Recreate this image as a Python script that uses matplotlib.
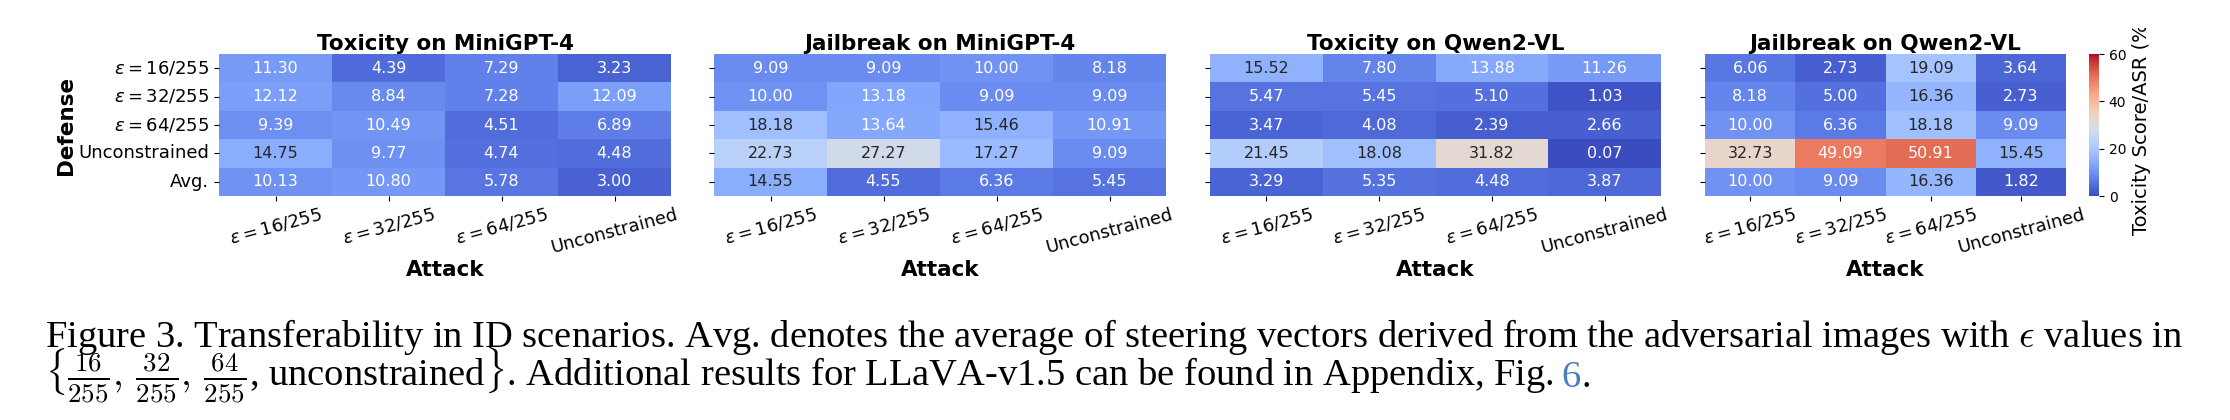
import numpy as np
import matplotlib
matplotlib.use("Agg")
import matplotlib.pyplot as plt
import seaborn as sns
from matplotlib.transforms import Bbox, TransformedBbox

# rows = defense, cols = attack
attack_labels = [r"$\varepsilon=16/255$", r"$\varepsilon=32/255$", r"$\varepsilon=64/255$", "Unconstrained"]
defense_labels = [r"$\varepsilon=16/255$", r"$\varepsilon=32/255$", r"$\varepsilon=64/255$", "Unconstrained", "Avg."]

tox_minigpt = [[11.30, 4.39, 7.29, 3.23],
               [12.12, 8.84, 7.28, 12.09],
               [9.39, 10.49, 4.51, 6.89],
               [14.75, 9.77, 4.74, 4.48],
               [10.13, 10.80, 5.78, 3.00]]
jb_minigpt = [[9.09, 9.09, 10.00, 8.18],
              [10.00, 13.18, 9.09, 9.09],
              [18.18, 13.64, 15.46, 10.91],
              [22.73, 27.27, 17.27, 9.09],
              [14.55, 4.55, 6.36, 5.45]]
tox_qwen = [[15.52, 7.80, 13.88, 11.26],
            [5.47, 5.45, 5.10, 1.03],
            [3.47, 4.08, 2.39, 2.66],
            [21.45, 18.08, 31.82, 0.07],
            [3.29, 5.35, 4.48, 3.87]]
jb_qwen = [[6.06, 2.73, 19.09, 3.64],
           [8.18, 5.00, 16.36, 2.73],
           [10.00, 6.36, 18.18, 9.09],
           [32.73, 49.09, 50.91, 15.45],
           [10.00, 9.09, 16.36, 1.82]]

titles = ["Toxicity on MiniGPT-4", "Jailbreak on MiniGPT-4",
          "Toxicity on Qwen2-VL", "Jailbreak on Qwen2-VL"]
panels = [tox_minigpt, jb_minigpt, tox_qwen, jb_qwen]

W, H = 2230, 420
fig = plt.figure(figsize=(W / 100, H / 100), dpi=100)


def px_axes(x0, x1, y0, y1):
    # pixel box (top-left origin) -> figure axes
    return fig.add_axes([x0 / W, 1 - y1 / H, (x1 - x0) / W, (y1 - y0) / H])


panel_x = [(219, 671), (714, 1166), (1210, 1661), (1705, 2066)]
cax = px_axes(2089, 2099, 54, 196)

for i, (data, title) in enumerate(zip(panels, titles)):
    ax = px_axes(panel_x[i][0], panel_x[i][1], 54, 196)
    last = i == len(panels) - 1
    sns.heatmap(np.array(data), ax=ax, cmap="coolwarm", vmin=0, vmax=60,
                annot=True, fmt=".2f", annot_kws={"fontsize": 11.5},
                cbar=last, cbar_ax=cax if last else None,
                xticklabels=attack_labels, yticklabels=defense_labels)
    ax.set_title(title, fontsize=15.5, fontweight="bold", pad=2)
    ax.set_xlabel("Attack", fontsize=15.5, fontweight="bold", labelpad=2)
    ax.tick_params(axis="both", labelsize=13)
    plt.setp(ax.get_xticklabels(), rotation=15, ha="center")
    if i == 0:
        ax.set_ylabel("Defense", fontsize=15.5, fontweight="bold", labelpad=2)
        plt.setp(ax.get_yticklabels(), rotation=0)
    else:
        ax.tick_params(axis="y", labelleft=False)

cax.tick_params(labelsize=10)
cax.set_yticks([0, 20, 40, 60])
lab = cax.set_ylabel("Toxicity Score/ASR (%)", fontsize=14, labelpad=4)
lab.set_clip_box(TransformedBbox(Bbox([[0, 0], [1, 1 - 28 / H]]), fig.transFigure))
lab.set_clip_on(True)

# caption
cap_font = dict(family="Liberation Serif", fontsize=27.7, math_fontfamily="cm")
fig.text(45 / W, 1 - 347 / H,
         r"Figure 3. Transferability in ID scenarios. Avg. denotes the average of steering vectors "
         r"derived from the adversarial images with $\epsilon$ values in",
         va="baseline", ha="left", **cap_font)
line2 = fig.text(45 / W, 1 - 387 / H,
                 r"$\{\frac{16}{255},\,\frac{32}{255},\,\frac{64}{255}$, unconstrained$\}$. "
                 r"Additional results for LLaVA-v1.5 can be found in Appendix, Fig.",
                 va="baseline", ha="left", **cap_font)
fig.canvas.draw()
x_end = line2.get_window_extent().x1
ref6 = fig.text((x_end + 7) / W, 1 - 387 / H, "6", color="#4e7bbd",
                va="baseline", ha="left", **cap_font)
fig.canvas.draw()
x6 = ref6.get_window_extent().x1
fig.text((x6 + 1) / W, 1 - 387 / H, ".", va="baseline", ha="left", **cap_font)

fig.savefig("out.png", dpi=100)
